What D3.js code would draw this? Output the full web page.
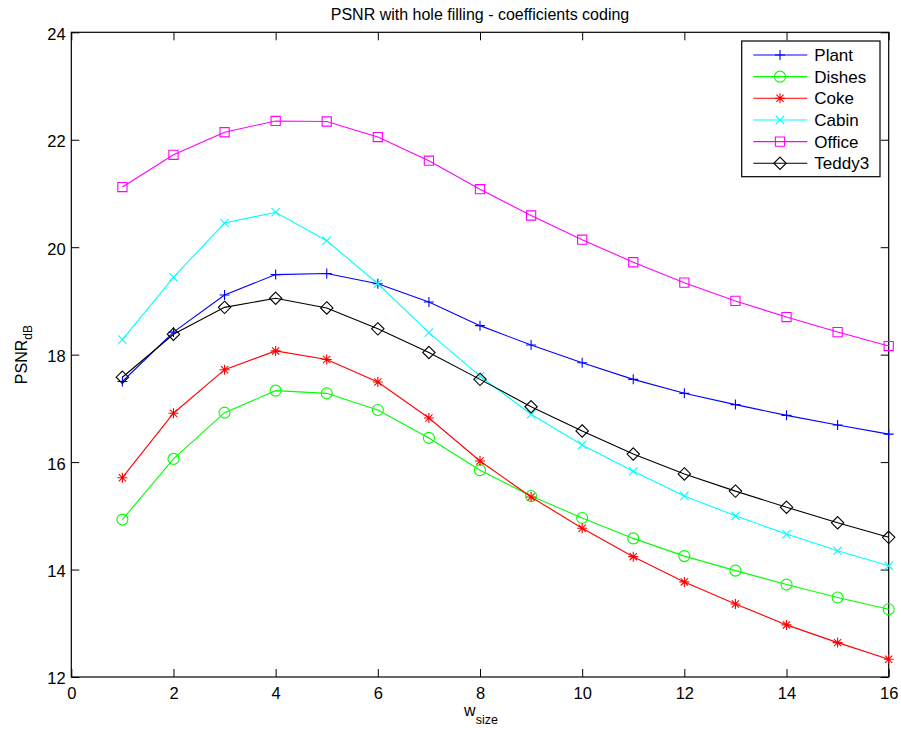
<!DOCTYPE html>
<html>
<head>
<meta charset="utf-8">
<script src="https://cdn.jsdelivr.net/npm/d3@7"></script>
<style>
  html, body { margin: 0; padding: 0; background: #fff; }
  svg { display: block; font-family: "Liberation Sans", Arial, sans-serif; }
</style>
</head>
<body>
<svg id="chart" width="901" height="737"></svg>
<script>
// Window sizes along the x axis
const wSize = [1, 2, 3, 4, 5, 6, 7, 8, 9, 10, 11, 12, 13, 14, 15, 16];

// PSNR (dB) per sequence
const plant  = [17.50, 18.42, 19.11, 19.49, 19.51, 19.32, 18.98, 18.54, 18.18, 17.85, 17.54, 17.28, 17.07, 16.87, 16.69, 16.52];
const dishes = [14.93, 16.06, 16.92, 17.33, 17.28, 16.97, 16.45, 15.85, 15.37, 14.96, 14.58, 14.25, 13.98, 13.72, 13.48, 13.26];
const coke   = [15.71, 16.91, 17.72, 18.07, 17.91, 17.49, 16.82, 16.02, 15.35, 14.77, 14.24, 13.77, 13.36, 12.97, 12.64, 12.33];
const cabin  = [18.28, 19.44, 20.45, 20.65, 20.12, 19.32, 18.41, 17.60, 16.89, 16.32, 15.83, 15.37, 15.00, 14.66, 14.35, 14.07];
const office = [21.12, 21.72, 22.14, 22.35, 22.34, 22.05, 21.61, 21.08, 20.59, 20.14, 19.72, 19.34, 19.00, 18.70, 18.42, 18.16];
const teddy3 = [17.58, 18.38, 18.88, 19.05, 18.87, 18.48, 18.04, 17.54, 17.03, 16.58, 16.15, 15.78, 15.46, 15.16, 14.87, 14.60];

const seriesNames = ["Plant", "Dishes", "Coke", "Cabin", "Office", "Teddy3"];
const seriesValues = [plant, dishes, coke, cabin, office, teddy3];
const seriesColors = ["#0000ff", "#00ff00", "#ff0000", "#00ffff", "#ff00ff", "#000000"];
const seriesMarkers = ["plus", "circle", "star", "cross", "square", "diamond"];

const xTicks = [0, 2, 4, 6, 8, 10, 12, 14, 16];
const yTicks = [12, 14, 16, 18, 20, 22, 24];

const svg = d3.select("#chart");
const plotLeft = 71.3, plotRight = 888.7, plotTop = 32.3, plotBottom = 677;

const x = d3.scaleLinear().domain([0, 16]).range([plotLeft, plotRight]);
const y = d3.scaleLinear().domain([12, 24]).range([plotBottom, plotTop]);

// Marker shapes drawn as paths centred on (0,0)
function markerPath(type) {
  const r = 5;
  switch (type) {
    case "plus": return `M${-r},0H${r}M0,${-r}V${r}`;
    case "cross": { const s = 4.2; return `M${-s},${-s}L${s},${s}M${-s},${s}L${s},${-s}`; }
    case "star": {
      const s = 3.6;
      return `M${-r},0H${r}M0,${-r}V${r}M${-s},${-s}L${s},${s}M${-s},${s}L${s},${-s}`;
    }
    case "square": { const s = 4.6; return `M${-s},${-s}H${s}V${s}H${-s}Z`; }
    case "diamond": { const s = 6.2; return `M0,${-s}L${s},0L0,${s}L${-s},0Z`; }
    case "circle": return d3.symbol().type(d3.symbolCircle).size(Math.PI * 5.5 * 5.5)();
  }
}

// Axes box with inward ticks on all sides
const tickLen = 8;
const axisColor = "#000";
const tickFont = "16.5px";
const gAxes = svg.append("g");

const bottomAxis = d3.axisBottom(x).tickValues(xTicks).tickSize(-tickLen).tickFormat(d3.format("d"));
const topAxis = d3.axisTop(x).tickValues(xTicks).tickSize(-tickLen).tickFormat("");
const leftAxis = d3.axisLeft(y).tickValues(yTicks).tickSize(-tickLen).tickPadding(5.6).tickFormat(d3.format("d"));
const rightAxis = d3.axisRight(y).tickValues(yTicks).tickSize(-tickLen).tickFormat("");

function styleAxis(g) {
  g.select(".domain").remove();
  g.selectAll("line").attr("stroke", axisColor).attr("stroke-width", 1);
  g.selectAll("text").attr("fill", "#000").style("font-size", tickFont)
    .style("font-family", '"Liberation Sans", Arial, sans-serif');
}

gAxes.append("g").attr("transform", `translate(0,${plotBottom})`).call(bottomAxis).call(styleAxis)
  .selectAll("text").attr("y", 22).attr("dy", 0);
gAxes.append("g").attr("transform", `translate(0,${plotTop})`).call(topAxis).call(styleAxis);
gAxes.append("g").attr("transform", `translate(${plotLeft},0)`).call(leftAxis).call(styleAxis)
  .selectAll("text").attr("dy", "0.42em");
gAxes.append("g").attr("transform", `translate(${plotRight},0)`).call(rightAxis).call(styleAxis);

gAxes.append("rect")
  .attr("x", plotLeft).attr("y", plotTop)
  .attr("width", plotRight - plotLeft).attr("height", plotBottom - plotTop)
  .attr("fill", "none").attr("stroke", axisColor).attr("stroke-width", 1.2);

// Series lines and markers
const line = d3.line().x((d, i) => x(wSize[i])).y(d => y(d));
const gSeries = svg.append("g");
seriesValues.forEach((vals, k) => {
  const g = gSeries.append("g");
  g.append("path").datum(vals)
    .attr("d", line)
    .attr("fill", "none")
    .attr("stroke", seriesColors[k])
    .attr("stroke-width", 1.1);
  g.selectAll("path.m").data(vals).enter().append("path")
    .attr("class", "m")
    .attr("transform", (d, i) => `translate(${x(wSize[i])},${y(d)})`)
    .attr("d", markerPath(seriesMarkers[k]))
    .attr("fill", "none")
    .attr("stroke", seriesColors[k])
    .attr("stroke-width", 1.1);
});

// Legend
const lgX = 741.7, lgY = 41, lgW = 138.3, lgH = 135.7;
const lg = svg.append("g");
lg.append("rect").attr("x", lgX).attr("y", lgY).attr("width", lgW).attr("height", lgH)
  .attr("fill", "#fff").attr("stroke", "#000").attr("stroke-width", 1.2);
seriesNames.forEach((name, k) => {
  const cy = 55 + k * 21.65;
  lg.append("line").attr("x1", 753.3).attr("x2", 807.3).attr("y1", cy).attr("y2", cy)
    .attr("stroke", seriesColors[k]).attr("stroke-width", 1.1);
  lg.append("path").attr("transform", `translate(780,${cy})`)
    .attr("d", markerPath(seriesMarkers[k]))
    .attr("fill", "none").attr("stroke", seriesColors[k]).attr("stroke-width", 1.1);
  lg.append("text").attr("x", 814.3).attr("y", cy).attr("dy", "0.36em")
    .style("font-size", "17px").text(name);
});

// Title and axis labels
svg.append("text").attr("x", (plotLeft + plotRight) / 2).attr("y", 20)
  .attr("text-anchor", "middle").style("font-size", "16px")
  .text("PSNR with hole filling - coefficients coding");

const xl = svg.append("text").attr("x", 481).attr("y", 716)
  .attr("text-anchor", "middle").style("font-size", "16px");
xl.append("tspan").text("w");
xl.append("tspan").attr("dy", 8).style("font-size", "12.5px").text("size");

const yl = svg.append("text")
  .attr("transform", `translate(27,${(plotTop + plotBottom) / 2}) rotate(-90)`)
  .attr("text-anchor", "middle").style("font-size", "16px");
yl.append("tspan").text("PSNR");
yl.append("tspan").attr("dy", 5).style("font-size", "12px").text("dB");
</script>
</body>
</html>
